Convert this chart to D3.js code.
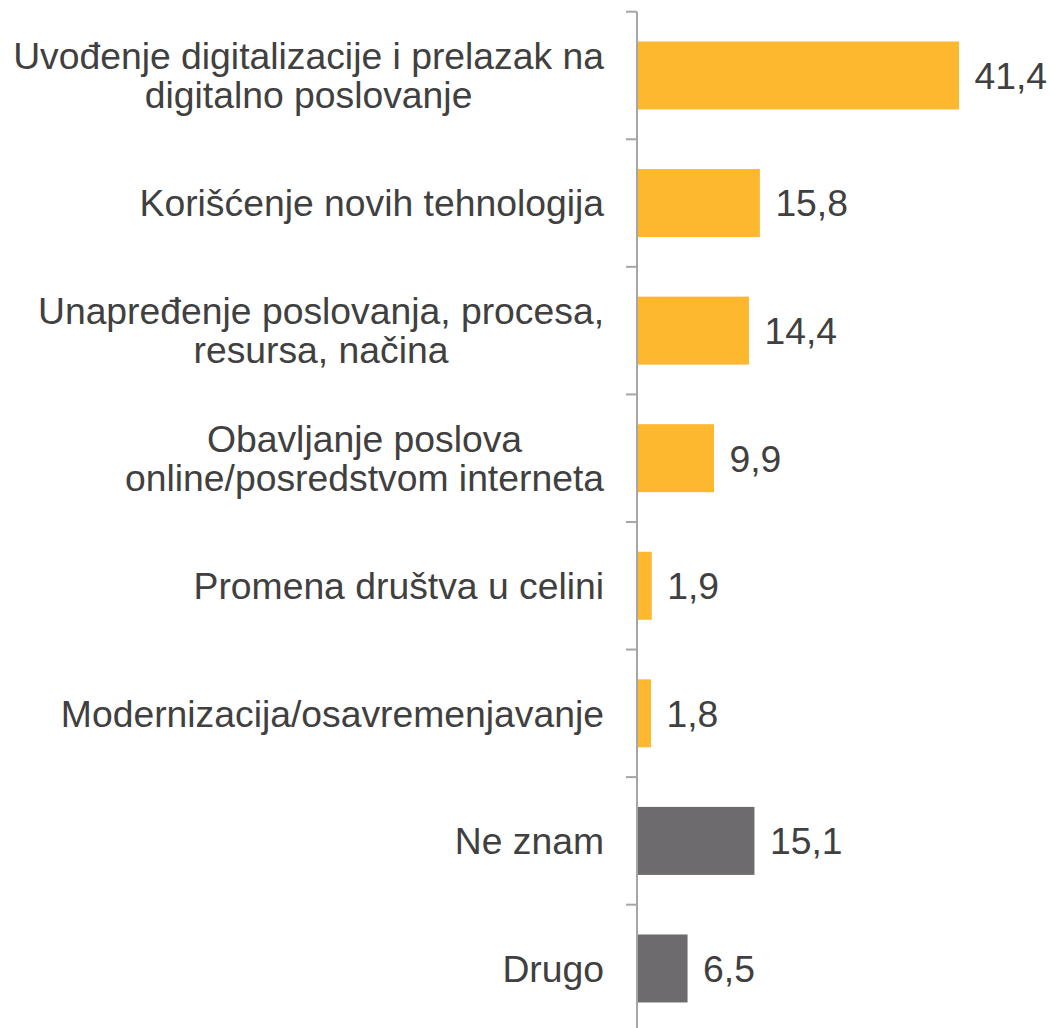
<!DOCTYPE html>
<html>
<head>
<meta charset="utf-8">
<script src="https://cdn.jsdelivr.net/npm/d3@7"></script>
<style>
  html, body { margin: 0; padding: 0; background: #fff; }
  text { font-family: "Liberation Sans", Arial, sans-serif; }
</style>
</head>
<body>
<div id="chart_div"></div>
<script>
// categories (line breaks as in the original slide)
const categories = [
  "Uvođenje digitalizacije i prelazak na\ndigitalno poslovanje",
  "Korišćenje novih tehnologija",
  "Unapređenje poslovanja, procesa,\nresursa, načina",
  "Obavljanje poslova\nonline/posredstvom interneta",
  "Promena društva u celini",
  "Modernizacija/osavremenjavanje",
  "Ne znam",
  "Drugo"
]
const values = [41.4, 15.8, 14.4, 9.9, 1.9, 1.8, 15.1, 6.5]
const groups = ["main", "main", "main", "main", "main", "main", "other", "other"]

const barColor = {main: "#FDB82F", other: "#6E6B6F"}
const textColor = "#404040"
const axisColor = "#A6A6A6"
const fontSize = 37.3

const width = 1054, height = 1028
const axisX = 637
const labelRight = 604

const svg = d3.select("#chart_div")
  .append("svg")
  .attr("width", width)
  .attr("height", height)

const data = categories.map((c, i) => ({cat: c, value: values[i], group: groups[i]}))

// x scale
const x = d3.scaleLinear()
  .domain([0, 41.4])
  .range([axisX, 959])

// y scale
const pad = 0.467
const y = d3.scaleBand()
  .domain(categories)
  .range([11.7, 11.7 + 127.57 * categories.length])
  .paddingInner(pad)
  .paddingOuter(pad / 2)

const step = y.step()
const bounds = categories.map(c => y(c) - step * pad / 2)
bounds.push(bounds[bounds.length - 1] + step)

// bars
svg.selectAll("rect.bar")
  .data(data)
  .join("rect")
  .attr("class", "bar")
  .attr("x", x(0))
  .attr("y", d => y(d.cat))
  .attr("width", d => x(d.value) - x(0))
  .attr("height", y.bandwidth())
  .attr("fill", d => barColor[d.group])

// axis line and tick marks
svg.append("line")
  .attr("x1", axisX).attr("x2", axisX)
  .attr("y1", bounds[0]).attr("y2", bounds[bounds.length - 1])
  .attr("stroke", axisColor)
  .attr("stroke-width", 2)

svg.selectAll("line.tick")
  .data(bounds)
  .join("line")
  .attr("class", "tick")
  .attr("x1", axisX - 11).attr("x2", axisX)
  .attr("y1", d => d).attr("y2", d => d)
  .attr("stroke", axisColor)
  .attr("stroke-width", 2)

// value labels
svg.selectAll("text.val")
  .data(data)
  .join("text")
  .attr("class", "val")
  .attr("x", d => x(d.value) + 15.5)
  .attr("y", d => y(d.cat) + y.bandwidth() / 2 + fontSize * 0.358)
  .attr("font-size", fontSize)
  .attr("fill", textColor)
  .text(d => d3.format(".1f")(d.value).replace(".", ","))

// category labels, centered block with right edge at labelRight
const lineGap = 39
data.forEach(d => {
  const lines = d.cat.split("\n")
  const cy = y(d.cat) + y.bandwidth() / 2
  const g = svg.append("g")
  const texts = lines.map((ln, i) => g.append("text")
    .attr("font-size", fontSize)
    .attr("fill", textColor)
    .attr("text-anchor", "middle")
    .attr("y", cy + (i - (lines.length - 1) / 2) * lineGap + fontSize * 0.358)
    .text(ln))
  const maxW = d3.max(texts, t => t.node().getComputedTextLength())
  texts.forEach(t => t.attr("x", labelRight - maxW / 2))
})
</script>
</body>
</html>
